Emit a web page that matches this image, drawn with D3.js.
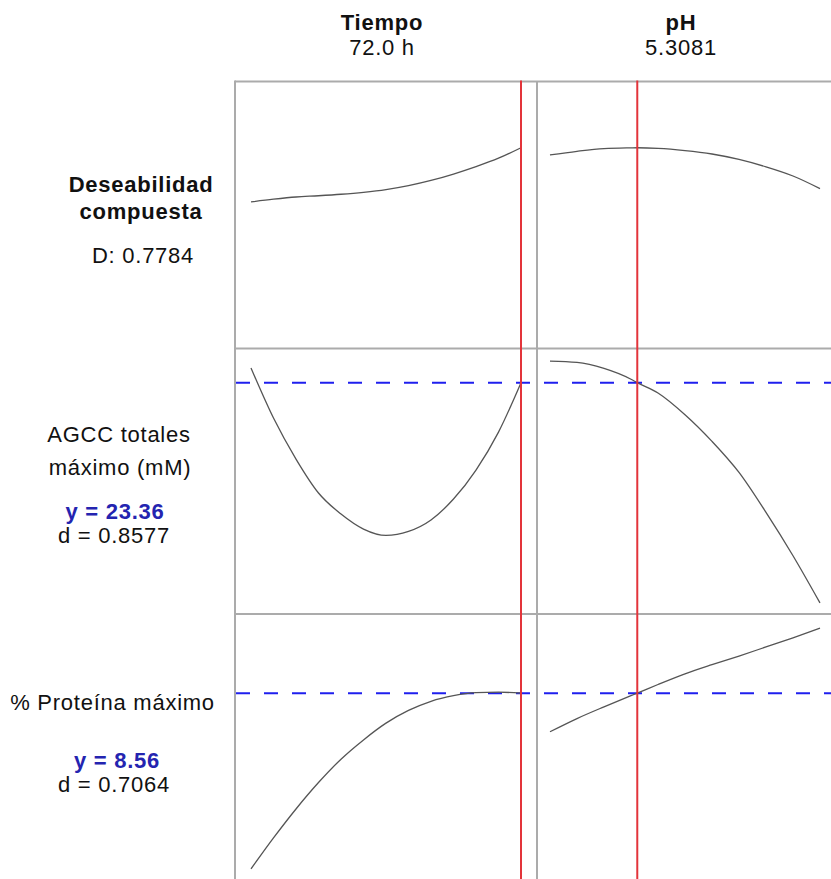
<!DOCTYPE html>
<html>
<head>
<meta charset="utf-8">
<script src="https://cdn.jsdelivr.net/npm/d3@7"></script>
<style>
  html, body { margin: 0; padding: 0; background: #ffffff; }
  svg { display: block; font-family: "Liberation Sans", Arial, sans-serif; }
  text { letter-spacing: 0.75px; }
</style>
</head>
<body>
<svg id="chart" width="831" height="879"></svg>
<script>
// ---- Data ----
const factors = ["Tiempo", "pH"];
const factorSettings = ["72.0 h", "5.3081"];
const optTiempo = 72.0;
const optPH = 5.3081;

const tiempo = [24, 28, 32, 36, 40, 44, 48, 52, 56, 60, 64, 68, 72];
const ph = [4.5, 4.75, 5.0, 5.25, 5.3081, 5.5, 5.75, 6.0, 6.25, 6.5, 6.75, 7.0];

const desTiempo = [0.559, 0.570, 0.579, 0.584, 0.590, 0.598, 0.609, 0.625, 0.646, 0.672, 0.702, 0.736, 0.7784];
const desPH = [0.749, 0.764, 0.775, 0.778, 0.7784, 0.776, 0.767, 0.753, 0.731, 0.701, 0.664, 0.613];

const agccTiempo = [24.23, 21.26, 18.83, 16.82, 15.57, 14.68, 14.30, 14.54, 15.22, 16.46, 18.18, 20.43, 23.36];
const agccPH = [24.64, 24.56, 24.20, 23.56, 23.36, 22.75, 21.46, 19.88, 18.04, 15.67, 13.10, 10.30];

const protTiempo = [5.10, 5.71, 6.28, 6.80, 7.26, 7.64, 7.97, 8.22, 8.40, 8.51, 8.57, 8.58, 8.56];
const protPH = [7.80, 8.06, 8.29, 8.51, 8.56, 8.73, 8.94, 9.12, 9.29, 9.47, 9.65, 9.84];

const responseLabels = [["Deseabilidad", "compuesta"], ["AGCC totales", "máximo (mM)"], ["% Proteína máximo"]];
const responseY = [null, "y = 23.36", "y = 8.56"];
const responseD = ["D: 0.7784", "d = 0.8577", "d = 0.7064"];
const targets = [null, 23.36, 8.56];

// ---- Layout ----
const svg = d3.select("#chart");
const W = 831, H = 879;
const gridLeft = 235, colDiv = 537, gridTop = 81.5;
const rowDivs = [348.5, 614];
const FONT = 22;

const xT = d3.scaleLinear().domain([24, 72]).range([251, 521]);
const xP = d3.scaleLinear().domain([4.5, 7.0]).range([550, 820]);

const yScales = [
  d3.scaleLinear().domain([0, 1]).range([340, 93]),
  d3.scaleLinear().domain([10, 25]).range([608, 355]),
  d3.scaleLinear().domain([5, 10]).range([874, 620])
];

const rows = [
  { t: desTiempo, p: desPH },
  { t: agccTiempo, p: agccPH },
  { t: protTiempo, p: protPH }
];

// grid lines
const gridColor = "#ababab";
svg.append("line").attr("x1", gridLeft).attr("x2", W).attr("y1", gridTop).attr("y2", gridTop)
  .attr("stroke", gridColor).attr("stroke-width", 2);
svg.append("line").attr("x1", gridLeft).attr("x2", gridLeft).attr("y1", gridTop - 1).attr("y2", H)
  .attr("stroke", gridColor).attr("stroke-width", 2);
svg.append("line").attr("x1", colDiv).attr("x2", colDiv).attr("y1", gridTop).attr("y2", H)
  .attr("stroke", gridColor).attr("stroke-width", 2);
rowDivs.forEach(y => {
  svg.append("line").attr("x1", gridLeft).attr("x2", W).attr("y1", y).attr("y2", y)
    .attr("stroke", gridColor).attr("stroke-width", 2);
});

// target dashed lines
targets.forEach((tv, i) => {
  if (tv === null) return;
  const y = yScales[i](tv);
  svg.append("line").attr("x1", gridLeft + 1).attr("x2", W).attr("y1", y).attr("y2", y)
    .attr("stroke", "#1f1fee").attr("stroke-width", 2).attr("stroke-dasharray", "14,14");
});

// curves
rows.forEach((r, i) => {
  const ys = yScales[i];
  const lineT = d3.line().x((d, j) => xT(tiempo[j])).y(d => ys(d)).curve(d3.curveMonotoneX);
  const lineP = d3.line().x((d, j) => xP(ph[j])).y(d => ys(d)).curve(d3.curveMonotoneX);
  svg.append("path").attr("d", lineT(r.t)).attr("fill", "none").attr("stroke", "#555555").attr("stroke-width", 1.3);
  svg.append("path").attr("d", lineP(r.p)).attr("fill", "none").attr("stroke", "#555555").attr("stroke-width", 1.3);
});

// red optimum lines
[xT(optTiempo), xP(optPH)].forEach(x => {
  svg.append("line").attr("x1", x).attr("x2", x).attr("y1", gridTop - 1).attr("y2", H)
    .attr("stroke", "#e3343a").attr("stroke-width", 2);
});

// column headers
const headerX = [382, 681];
factors.forEach((f, i) => {
  svg.append("text").attr("x", headerX[i]).attr("y", 30).attr("text-anchor", "middle")
    .attr("font-size", FONT).attr("font-weight", "bold").attr("fill", "#111").text(f);
  svg.append("text").attr("x", headerX[i]).attr("y", 55).attr("text-anchor", "middle")
    .attr("font-size", FONT).attr("fill", "#111").text(factorSettings[i]);
});

// row labels
// row 0
svg.append("text").attr("x", 141).attr("y", 192).attr("text-anchor", "middle")
  .attr("font-size", FONT).attr("font-weight", "bold").attr("fill", "#111").text(responseLabels[0][0]);
svg.append("text").attr("x", 141).attr("y", 219).attr("text-anchor", "middle")
  .attr("font-size", FONT).attr("font-weight", "bold").attr("fill", "#111").text(responseLabels[0][1]);
svg.append("text").attr("x", 143).attr("y", 263).attr("text-anchor", "middle")
  .attr("font-size", FONT).attr("fill", "#111").text(responseD[0]);

// row 1
svg.append("text").attr("x", 119).attr("y", 442).attr("text-anchor", "middle")
  .attr("font-size", FONT).attr("fill", "#111").text(responseLabels[1][0]);
svg.append("text").attr("x", 120).attr("y", 475).attr("text-anchor", "middle")
  .attr("font-size", FONT).attr("fill", "#111").text(responseLabels[1][1]);
svg.append("text").attr("x", 115).attr("y", 519).attr("text-anchor", "middle")
  .attr("font-size", FONT).attr("font-weight", "bold").attr("fill", "#2424b0").text(responseY[1]);
svg.append("text").attr("x", 114).attr("y", 543).attr("text-anchor", "middle")
  .attr("font-size", FONT).attr("fill", "#111").text(responseD[1]);

// row 2
svg.append("text").attr("x", 112.5).attr("y", 710).attr("text-anchor", "middle")
  .attr("font-size", FONT).attr("fill", "#111").text(responseLabels[2][0]);
svg.append("text").attr("x", 117).attr("y", 768).attr("text-anchor", "middle")
  .attr("font-size", FONT).attr("font-weight", "bold").attr("fill", "#2424b0").text(responseY[2]);
svg.append("text").attr("x", 114).attr("y", 792).attr("text-anchor", "middle")
  .attr("font-size", FONT).attr("fill", "#111").text(responseD[2]);
</script>
</body>
</html>
